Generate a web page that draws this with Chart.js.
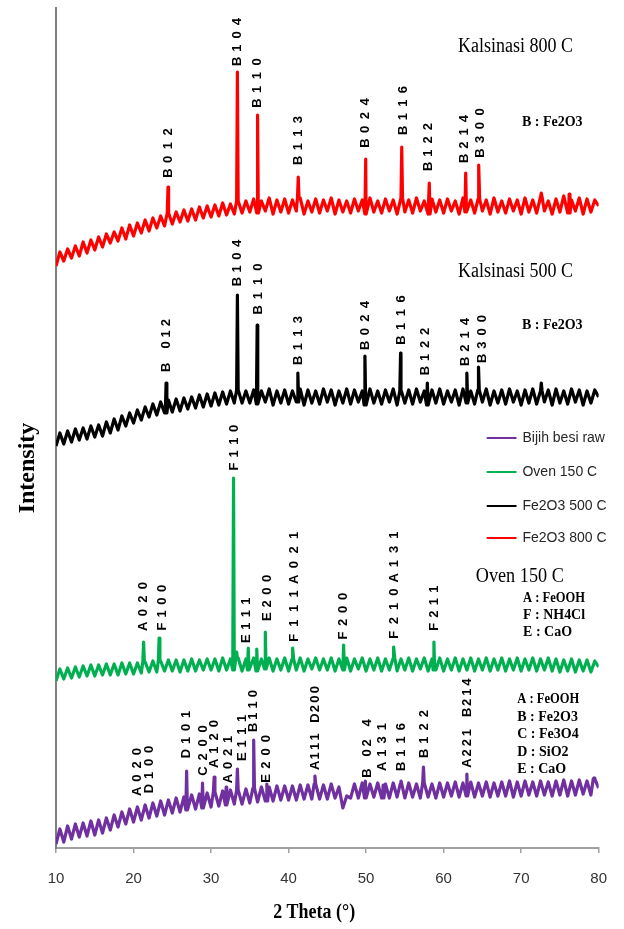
<!DOCTYPE html>
<html><head><meta charset="utf-8">
<script src="https://cdn.jsdelivr.net/npm/chart.js@4.4.1/dist/chart.umd.min.js"></script>
<style>html,body{margin:0;padding:0;background:#fff;}canvas{display:block;}</style>
</head><body>
<canvas id="c" width="624" height="929"></canvas>
<script>
// 2-theta grid: 10.0 .. 80.0 in 0.5 degree steps
const thetaStart = 10, thetaStep = 0.5;
const xTicks = [10, 20, 30, 40, 50, 60, 70, 80];
const seriesNames = ["Bijih besi raw", "Oven 150 C", "Fe2O3 500 C", "Fe2O3 800 C"];
const seriesColors = ["#7030A0", "#00B050", "#000000", "#FF0000"];

// intensity (arbitrary units, stacked offsets as in the figure)
const rawValues = [
  4,19,6,22,9,24,11,25,12,27, 13,28,15,30,18,33,21,36,24,39,
  26,41,28,43,30,45,32,47,33,48, 35,50,36,51,38,53,39,54,40,55,
  41,56,42,57,43,58,44,58,44,59, 45,60,46,61,47,61,47,62,48,62,
  48,62,48,63,49,63,49,64,49,63, 49,64,50,61,40,52,50,64,50,65,
  50,64,51,65,50,64,50,65,51,64, 50,65,51,64,50,65,51,64,50,65,
  51,65,52,66,51,65,52,66,51,65, 52,66,51,65,52,66,52,67,51,66,
  52,67,53,66,52,67,53,66,52,67, 53,68,52,67,53,68,54,67,53,69, 60];
const ovenValues = [
  167,179,169,180,170,181,171,182,172,183, 172,183,173,184,173,184,173,185,174,185,
  174,185,175,186,176,187,176,187,177,188, 177,188,176,188,177,189,177,188,178,189,
  178,189,177,190,178,189,178,190,177,189, 178,190,177,189,179,190,177,189,178,190,
  177,189,178,190,177,189,179,190,178,189, 178,190,177,189,178,190,177,189,179,190,
  177,189,178,190,177,189,178,190,177,189, 178,190,177,189,179,190,177,189,178,190,
  177,189,178,190,177,189,178,190,177,189, 178,190,177,189,178,190,177,189,178,190,
  177,189,178,190,177,189,178,190,177,189, 176,188,177,189,176,188,177,188,176,187, 181];
const k500Values = [
  402,415,404,417,406,419,408,420,409,422, 411,423,412,426,415,429,418,432,422,435,
  425,438,428,441,431,444,433,446,435,448, 436,449,437,450,439,451,440,453,441,454,
  442,455,443,456,444,457,445,458,445,457, 445,458,444,457,446,459,443,457,445,458,
  444,457,446,459,443,458,445,457,444,459, 446,458,443,457,445,459,444,458,446,457,
  443,459,445,457,444,458,446,459,443,457, 445,458,444,459,446,457,443,458,445,459,
  444,457,446,458,443,459,445,457,444,458, 446,459,443,457,445,458,444,459,446,457,
  443,458,445,459,444,457,446,458,443,459, 445,457,444,459,446,458,443,457,445,458, 451];
const k800Values = [
  582,596,587,599,590,602,592,606,595,608, 598,611,601,614,605,616,607,620,609,623,
  612,625,615,628,617,630,620,632,622,635, 624,636,626,638,627,639,628,641,630,642,
  631,643,632,645,633,644,634,647,635,647, 636,649,635,647,637,650,634,648,636,649,
  635,648,637,650,634,647,636,649,635,648, 637,650,634,648,636,647,635,649,637,648,
  634,650,636,647,635,649,637,648,634,650, 636,648,635,650,637,647,634,649,636,648,
  635,649,637,647,634,650,636,648,635,649, 637,648,634,650,636,647,635,649,637,648,
  634,650,636,648,635,651,637,647,634,649, 636,652,635,648,637,650,634,649,636,648, 642];

// diffraction peaks: [2theta, peak intensity]
const rawPeaks = [[26.85,77],[28.9,65],[30.4,71],[31.95,61],[33.4,79],[35.5,108],[37.2,64],[43.4,72],[49.9,67],[52.2,63],[54.5,67],[57.4,81],[63.0,74],[79.4,70]];
const ovenPeaks = [[21.3,206],[23.3,210],[32.9,370],[33.3,196],[34.8,200],[35.9,199],[37.0,216],[40.55,200],[47.1,203],[53.6,201],[58.75,206]];
const k500Peaks = [[24.2,465],[33.4,553],[35.95,523],[41.2,475],[49.85,492],[54.45,495],[57.9,465],[63.0,475],[64.5,481],[72.6,465]];
const k800Peaks = [[24.45,661],[33.4,776],[36.0,733],[41.25,671],[49.95,689],[54.6,701],[58.15,665],[62.85,675],[64.55,683],[72.6,655],[76.2,654]];

// peak labels: [text, 2theta, bottom, top]
const rawLabels = [["A020",20.47,50,103],["D100",22.0,53,105],["D101",26.86,88,140],["C200",29.03,70,126],["A120",30.43,78,131],["A021",32.22,63,115],["E111",34.0,85,136],["B110",35.5,115,160],["E200",37.1,63,116],["A111 D200",43.45,78,163],["B 02 4",50.2,70,130],["A131",52.15,75,128],["B116",54.57,75,128],["B122",57.5,88,141],["A221 B214",63.13,80,171]];
const ovenLabels = [["A020",21.34,215,269],["F100",23.69,215,266],["F110",32.99,375,426],["E111",34.52,203,253],["E200",37.33,225,276],["F111A021",40.75,203,320],["F200",47.04,206,258],["F210A131",53.68,206,320],["F211",58.79,215,265]];
const k500Labels = [["B 012",24.2,475,531],["B104",33.4,560,611],["B110",36.05,531,588],["B113",41.27,481,535],["B024",49.85,496,550],["B116",54.55,501,556],["B122",57.6,471,523],["B214",62.87,480,533],["B300",65.07,483,536]];
const k800Labels = [["B012",24.46,668,723],["B104",33.44,780,833],["B110",35.99,738,793],["B113",41.27,681,735],["B024",49.95,698,753],["B116",54.85,711,765],["B122",58.02,675,728],["B214",62.62,683,736],["B300",64.76,688,743]];

// sample titles and phase keys: [text, 2theta (left), intensity (middle)]
const sampleTitles = [["Kalsinasi 800 C",61.85,801,115],["Kalsinasi 500 C",61.85,576,115],["Oven 150 C",64.15,271,88]];
const phaseKeys = [["B : Fe2O3",70.1,726],["B : Fe2O3",70.1,523],
  ["A : FeOOH",70.25,250],["F : NH4Cl",70.25,233],["E : CaO",70.25,216],
  ["A : FeOOH",69.5,149],["B : Fe2O3",69.5,131],["C : Fe3O4",69.5,114],["D : SiO2",69.5,96],["E : CaO",69.5,79]];
const legendRows = [410, 376, 342, 310];

function buildSeries(base, peaks) {
  const pts = base.map((v, i) => ({x: thetaStart + i * thetaStep, y: v}));
  peaks.forEach(([p, top]) => {
    const i = Math.max(0, Math.min(base.length - 1, Math.round((p - thetaStart) / thetaStep)));
    pts.push({x: p - 0.1, y: base[i]}, {x: p, y: top}, {x: p + 0.1, y: base[i]});
  });
  pts.sort((a, b) => a.x - b.x);
  return pts;
}

const allValues = [rawValues, ovenValues, k500Values, k800Values];
const allPeaks = [rawPeaks, ovenPeaks, k500Peaks, k800Peaks];
const datasets = seriesNames.map((n, k) => ({
  label: n,
  data: buildSeries(allValues[k], allPeaks[k]),
  borderColor: seriesColors[k],
  backgroundColor: seriesColors[k],
  borderWidth: 3.2,
  borderJoinStyle: 'round',
  pointRadius: 0,
  tension: 0,
  fill: false
}));

const annotations = {
  id: 'annotations',
  afterDraw(chart) {
    const {ctx, scales: {x, y}} = chart;
    ctx.save();
    ctx.fillStyle = '#000';
    // rotated peak labels
    ctx.font = 'bold 13px "Liberation Sans", Arial, sans-serif';
    ctx.textAlign = 'center';
    ctx.textBaseline = 'middle';
    [rawLabels, ovenLabels, k500Labels, k800Labels].forEach(list => list.forEach(([t, th, yb, yt]) => {
      const X = x.getPixelForValue(th), B = y.getPixelForValue(yb), T = y.getPixelForValue(yt);
      const step = (B - T) / t.length;
      [...t].forEach((ch, i) => {
        if (ch === ' ') return;
        ctx.save();
        ctx.translate(X, B - (i + 0.5) * step);
        ctx.rotate(-Math.PI / 2);
        ctx.fillText(ch, 0, 0);
        ctx.restore();
      });
    }));
    // sample titles
    ctx.textAlign = 'left';
    ctx.font = '20px "Liberation Serif", "Times New Roman", serif';
    sampleTitles.forEach(([t, th, v, w]) => ctx.fillText(t, x.getPixelForValue(th), y.getPixelForValue(v), w));
    // phase keys
    ctx.font = 'bold 14px "Liberation Serif", "Times New Roman", serif';
    phaseKeys.forEach(([t, th, v]) => ctx.fillText(t, x.getPixelForValue(th), y.getPixelForValue(v), 62));
    // legend
    ctx.font = '14px "Liberation Sans", Arial, sans-serif';
    chart.data.datasets.forEach((ds, k) => {
      const yy = y.getPixelForValue(legendRows[k]);
      const x0 = x.getPixelForValue(65.56), x1 = x.getPixelForValue(69.4);
      ctx.strokeStyle = ds.borderColor;
      ctx.lineWidth = 2;
      ctx.beginPath(); ctx.moveTo(x0, yy); ctx.lineTo(x1, yy); ctx.stroke();
      ctx.fillStyle = '#262626';
      ctx.fillText(ds.label, x1 + 6, yy);
    });
    // axis titles
    ctx.fillStyle = '#000';
    ctx.textAlign = 'center';
    ctx.font = 'bold 21px "Liberation Serif", "Times New Roman", serif';
    ctx.fillText('2 Theta (°)', x.getPixelForValue(43.3), chart.chartArea.bottom + 65, 82);
    ctx.save();
    ctx.translate(28, y.getPixelForValue(380));
    ctx.rotate(-Math.PI / 2);
    ctx.font = 'bold 24px "Liberation Serif", "Times New Roman", serif';
    ctx.fillText('Intensity', 0, 0, 93);
    ctx.restore();
    ctx.restore();
  }
};

new Chart(document.getElementById('c'), {
  type: 'line',
  data: {datasets},
  options: {
    responsive: false,
    animation: false,
    devicePixelRatio: 1,
    layout: {padding: {left: 0, right: 20, top: 8, bottom: 0}},
    plugins: {legend: {display: false}, tooltip: {enabled: false}},
    scales: {
      x: {
        type: 'linear', min: 10, max: 80,
        afterBuildTicks: s => { s.ticks = xTicks.map(v => ({value: v})); },
        grid: {drawOnChartArea: false, drawTicks: true, tickLength: 5, color: '#a0a0a0', lineWidth: 1.5},
        border: {display: true, color: '#a0a0a0', width: 2},
        ticks: {color: '#333', font: {family: '"Liberation Sans", Arial, sans-serif', size: 15}, padding: 17, maxRotation: 0},
        afterFit: s => { s.height = 81; }
      },
      y: {
        min: 0, max: 840,
        ticks: {display: false},
        grid: {display: false, drawTicks: false},
        border: {display: true, color: '#808080', width: 2},
        afterFit: s => { s.width = 56; }
      }
    }
  },
  plugins: [annotations]
});
</script>
</body></html>
